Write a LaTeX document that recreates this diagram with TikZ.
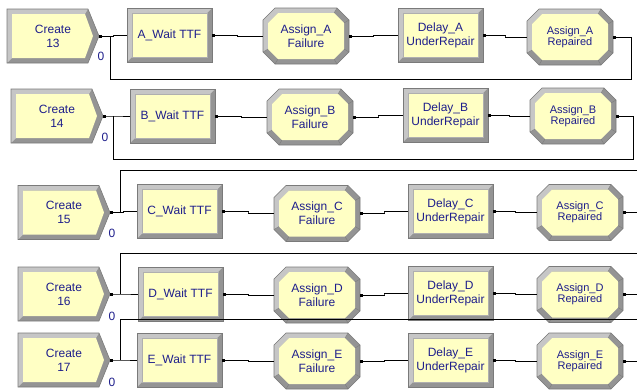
\documentclass[tikz,border=0pt]{standalone}
\usepackage{fontspec}
\setmainfont{Liberation Sans}
\usetikzlibrary{calc,arrows.meta}

\definecolor{modfill}{HTML}{FFFFC4}
\definecolor{framelt}{HTML}{C6C6C6}
\definecolor{framedk}{HTML}{949494}
\definecolor{frameln}{HTML}{7A7A7A}
\definecolor{modtxt}{HTML}{1E1E8C}

\tikzset{
  modtext/.style={text=modtxt, align=center, font=\fontsize{12}{14}\selectfont, inner sep=0pt},
  reptext/.style={modtext, font=\fontsize{11}{11}\selectfont},
  counttext/.style={text=modtxt, font=\fontsize{12}{14}\selectfont, inner sep=0pt},
  conn/.style={draw=black, line width=0.7pt, {Square[length=2.6pt,width=2.6pt]}-},
  stepjog/.style={to path={-| ($(\tikztostart)!.5!(\tikztotarget)$) |- (\tikztotarget)}},
  edgeline/.style={draw=frameln, line width=0.6pt},
}

% Create module: arrow-shaped bevelled frame.  #1 name, #2 left x, #3 centre y, #4 label
\newcommand{\createmod}[4]{%
  \begin{scope}[shift={(#2,#3)}]
    \fill[framedk] (0,-27) -- (81,-27) -- (92,0) -- (81,27) -- (0,27) -- cycle;
    \fill[framelt] (0,-27) -- (81,-27) -- (78,-22) -- (5,-22) -- (5,22) -- (0,27) -- cycle;
    \fill[modfill] (5,-22) -- (78,-22) -- (86,0) -- (78,22) -- (5,22) -- cycle;
    \draw[edgeline] (0,-27) -- (81,-27) -- (92,0) -- (81,27) -- (0,27) -- cycle;
  \end{scope}
  \node[modtext, minimum width=92pt, minimum height=54pt] (#1) at ($(#2,#3)+(46,0)$) {#4};
}

% Rectangular module (Hold / Delay).  #1 name, #2 left x, #3 centre y, #4 label
\newcommand{\rectmod}[4]{%
  \begin{scope}[shift={(#2,#3)}]
    \fill[framedk] (0,-27) rectangle (85,27);
    \fill[framelt] (0,-27) -- (85,-27) -- (80,-22) -- (5,-22) -- (5,22) -- (0,27) -- cycle;
    \fill[modfill] (5,-22) rectangle (80,22);
    \draw[edgeline] (0,-27) rectangle (85,27);
    \draw[frameln!60, line width=0.4pt] (5,-22) rectangle (80,22);
  \end{scope}
  \node[modtext, minimum width=85pt, minimum height=54pt] (#1) at ($(#2,#3)+(42.5,0)$) {#4};
}

% Octagonal module (Assign).  #1 name, #2 left x, #3 centre y, #4 label, #5 text style
\newcommand{\octmod}[5]{%
  \begin{scope}[shift={(#2,#3)}]
    \fill[framedk] (12,-28) -- (74,-28) -- (86,-16) -- (86,16) -- (74,28) -- (12,28) -- (0,16) -- (0,-16) -- cycle;
    \fill[framelt] (0,16) -- (0,-16) -- (12,-28) -- (74,-28) -- (71,-23) -- (15,-23) -- (5,-13) -- (5,13) -- cycle;
    \fill[modfill] (15,-23) -- (71,-23) -- (81,-13) -- (81,13) -- (71,23) -- (15,23) -- (5,13) -- (5,-13) -- cycle;
    \draw[frameln, line width=0.4pt] (5,13) -- (0,16) (15,23) -- (12,28) (71,23) -- (74,28)
      (81,13) -- (86,16) (81,-13) -- (86,-16) (71,-23) -- (74,-28);
    \draw[edgeline] (12,-28) -- (74,-28) -- (86,-16) -- (86,16) -- (74,28) -- (12,28) -- (0,16) -- (0,-16) -- cycle;
  \end{scope}
  \node[#5, minimum width=86pt, minimum height=56pt] (#1) at ($(#2,#3)+(43,0)$) {#4};
}

\begin{document}
\begin{tikzpicture}[x=1pt, y=-1pt]
  \useasboundingbox (0,0) rectangle (637,389);
  \clip (0,0) rectangle (637,389);
  \fill[white] (0,0) rectangle (637,389);

  % ---------- resource A ----------
  \createmod{cA}{7}{36}{Create\\13}
  \rectmod{wA}{127}{35}{A\_Wait TTF}
  \octmod{fA}{263}{36}{Assign\_A\\Failure}{modtext}
  \rectmod{dA}{398}{35}{Delay\_A\\UnderRepair}
  \octmod{rA}{527}{37}{Assign\_A\\Repaired}{reptext}
  \node[counttext] (nA) at (101,56) {0};
  \coordinate (jA) at (110,36);
  \coordinate (lpA) at (631,79);
  \draw[conn] (cA.east) to[stepjog] (wA.west);
  \draw[conn] (wA.east) to[stepjog] (fA.west);
  \draw[conn] (fA.east) to[stepjog] (dA.west);
  \draw[conn] (dA.east) to[stepjog] (rA.west);
  \draw[conn] (rA.east) -| (lpA) -| (jA);

  % ---------- resource B ----------
  \createmod{cB}{11}{116}{Create\\14}
  \rectmod{wB}{130}{116}{B\_Wait TTF}
  \octmod{fB}{267}{117}{Assign\_B\\Failure}{modtext}
  \rectmod{dB}{403}{115}{Delay\_B\\UnderRepair}
  \octmod{rB}{530}{116}{Assign\_B\\Repaired}{reptext}
  \node[counttext] (nB) at (105,137) {0};
  \coordinate (jB) at (113,116);
  \coordinate (lpB) at (633,159);
  \draw[conn] (cB.east) to[stepjog] (wB.west);
  \draw[conn] (wB.east) to[stepjog] (fB.west);
  \draw[conn] (fB.east) to[stepjog] (dB.west);
  \draw[conn] (dB.east) to[stepjog] (rB.west);
  \draw[conn] (rB.east) -| (lpB) -| (jB);

  % ---------- resource C ----------
  \createmod{cC}{18}{212.5}{Create\\15}
  \rectmod{wC}{137}{211.5}{C\_Wait TTF}
  \octmod{fC}{274}{213.5}{Assign\_C\\Failure}{modtext}
  \rectmod{dC}{408}{211.5}{Delay\_C\\UnderRepair}
  \octmod{rC}{537}{212.5}{Assign\_C\\Repaired}{reptext}
  \node[counttext] (nC) at (112,233) {0};
  \coordinate (jC) at (120,212.5);
  \coordinate (lpC) at (660,170);
  \draw[conn] (cC.east) to[stepjog] (wC.west);
  \draw[conn] (wC.east) to[stepjog] (fC.west);
  \draw[conn] (fC.east) to[stepjog] (dC.west);
  \draw[conn] (dC.east) to[stepjog] (rC.west);
  \draw[conn] (rC.east) -| (lpC) -| (jC);

  % ---------- resource D ----------
  \createmod{cD}{18}{294}{Create\\16}
  \rectmod{wD}{138}{294}{D\_Wait TTF}
  \octmod{fD}{274}{295}{Assign\_D\\Failure}{modtext}
  \rectmod{dD}{408}{293.5}{Delay\_D\\UnderRepair}
  \octmod{rD}{537}{294.5}{Assign\_D\\Repaired}{reptext}
  \node[counttext] (nD) at (112,316) {0};
  \coordinate (jD) at (120,294);
  \coordinate (lpD) at (660,253);
  \draw[conn] (cD.east) to[stepjog] (wD.west);
  \draw[conn] (wD.east) to[stepjog] (fD.west);
  \draw[conn] (fD.east) to[stepjog] (dD.west);
  \draw[conn] (dD.east) to[stepjog] (rD.west);
  \draw[conn] (rD.east) -| (lpD) -| (jD);

  % ---------- resource E ----------
  \createmod{cE}{18}{360}{Create\\17}
  \rectmod{wE}{137}{360}{E\_Wait TTF}
  \octmod{fE}{274}{361}{Assign\_E\\Failure}{modtext}
  \rectmod{dE}{408}{360}{Delay\_E\\UnderRepair}
  \octmod{rE}{537}{361}{Assign\_E\\Repaired}{reptext}
  \node[counttext] (nE) at (112,382) {0};
  \coordinate (jE) at (120,360);
  \coordinate (lpE) at (660,319);
  \draw[conn] (cE.east) to[stepjog] (wE.west);
  \draw[conn] (wE.east) to[stepjog] (fE.west);
  \draw[conn] (fE.east) to[stepjog] (dE.west);
  \draw[conn] (dE.east) to[stepjog] (rE.west);
  \draw[conn] (rE.east) -| (lpE) -| (jE);
\end{tikzpicture}
\end{document}
